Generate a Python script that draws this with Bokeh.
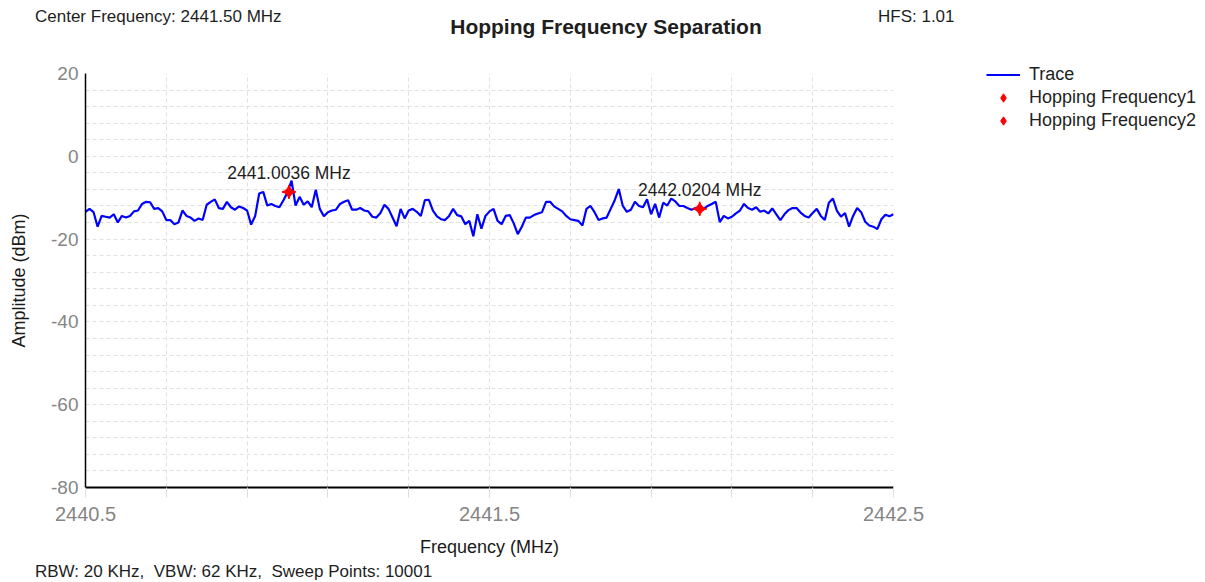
from bokeh.plotting import figure
from bokeh.models import FixedTicker, Legend, LegendItem, Div
from bokeh.layouts import column
from bokeh.core.properties import value
from bokeh.embed import file_html
from bokeh.resources import INLINE
import math

FONT = "Liberation Sans"

center_freq_text = "Center Frequency: 2441.50 MHz"
title_text = "Hopping Frequency Separation"
hfs_text = "HFS: 1.01"
footer_text = "RBW: 20 KHz,&nbsp; VBW: 62 KHz,&nbsp; Sweep Points: 10001"
x_label = "Frequency (MHz)"
y_label = "Amplitude (dBm)"

# trace sampled every 0.01 MHz from 2440.5 MHz
freq_start = 2440.5
freq_step = 0.01
trace_amp = [
    -13.4, -12.7, -13.5, -17.0, -14.4, -14.6, -14.8, -14.0, -16.0, -14.4,
    -14.8, -14.4, -13.3, -13.1, -11.5, -11.0, -11.1, -12.7, -12.5, -13.3,
    -15.4, -15.4, -16.4, -16.0, -13.1, -14.4, -14.8, -15.6, -15.0, -15.4,
    -11.7, -11.0, -10.4, -12.5, -12.7, -11.0, -12.3, -12.9, -12.1, -12.5,
    -13.1, -16.5, -14.4, -9.0, -8.6, -11.9, -11.5, -12.0, -12.3, -10.6,
    -8.7, -5.9, -11.9, -9.8, -11.7, -10.9, -12.3, -8.1, -12.7, -14.5,
    -13.5, -13.1, -12.9, -11.5, -11.0, -10.6, -12.9, -12.9, -12.5, -13.1,
    -13.3, -14.6, -14.8, -13.7, -11.7, -12.7, -14.8, -16.9, -12.7, -15.0,
    -13.1, -12.7, -13.4, -14.4, -10.6, -10.5, -13.1, -14.5, -15.2, -15.4,
    -14.4, -12.7, -14.2, -14.5, -16.4, -15.6, -19.3, -14.0, -17.5, -14.4,
    -13.3, -12.7, -15.6, -16.4, -14.4, -14.2, -16.2, -18.8, -17.0, -14.8,
    -14.8, -14.2, -13.8, -13.5, -11.0, -11.0, -12.1, -12.7, -13.3, -14.4,
    -15.2, -15.4, -15.6, -16.7, -12.7, -12.0, -13.5, -15.4, -15.0, -14.8,
    -12.7, -10.6, -7.9, -12.0, -13.4, -12.9, -11.0, -12.0, -12.3, -10.4,
    -14.0, -11.5, -14.8, -11.2, -11.9, -10.2, -10.9, -12.0, -12.0, -12.5,
    -12.9, -12.5, -12.9, -12.7, -12.0, -11.5, -11.0, -15.9, -14.4, -15.0,
    -14.6, -13.8, -13.1, -11.5, -12.5, -12.9, -12.3, -13.4, -13.1, -13.8,
    -12.6, -14.0, -15.4, -14.0, -13.0, -12.5, -12.5, -13.6, -14.4, -14.8,
    -13.7, -12.7, -14.4, -15.4, -11.2, -10.2, -13.2, -14.6, -13.7, -17.0,
    -14.4, -12.5, -13.5, -15.8, -16.7, -17.0, -17.6, -15.2, -14.1, -14.5,
    -14.0,
]
trace_freq = [round(freq_start + k * freq_step, 2) for k in range(len(trace_amp))]

hop_freq = [2441.0036, 2442.0204]
hop_amp = [-8.6, -12.7]
hop_labels = ["2441.0036 MHz", "2442.0204 MHz"]
legend_labels = ["Trace", "Hopping Frequency1", "Hopping Frequency2"]

x_ticks = [2440.5, 2441.5, 2442.5]
x_grid_ticks = [2440.5, 2440.7, 2440.9, 2441.1, 2441.3, 2441.5, 2441.7, 2441.9, 2442.1, 2442.3, 2442.5]
y_ticks = [-80, -60, -40, -20, 0, 20]
y_grid_ticks = list(range(-80, 21, 4))

p = figure(frame_width=808, frame_height=414,
           x_range=(2440.5, 2442.5), y_range=(-80, 20),
           output_backend="svg", toolbar_location=None,
           min_border_left=85, min_border_right=311,
           min_border_top=15, min_border_bottom=76,
           outline_line_color=None, background_fill_color="white",
           border_fill_color="white", margin=0)

# grids
p.xgrid.ticker = FixedTicker(ticks=x_grid_ticks)
p.ygrid.ticker = FixedTicker(ticks=y_grid_ticks)
for g in (p.xgrid, p.ygrid):
    g.grid_line_color = "#e0e0e0"
    g.grid_line_dash = "4 3"
    g.grid_line_width = 1

# x axis
xa = p.xaxis[0]
xa.ticker = FixedTicker(ticks=x_ticks, minor_ticks=x_grid_ticks)
xa.axis_line_color = "black"
xa.axis_line_width = 2
xa.major_tick_in = 0
xa.major_tick_out = 10
xa.minor_tick_in = 0
xa.minor_tick_out = 10
xa.major_tick_line_color = "#dedede"
xa.minor_tick_line_color = "#dedede"
xa.major_label_standoff = 9
xa.major_label_text_font = FONT
xa.major_label_text_font_size = "20px"
xa.major_label_text_color = "#858585"
xa.axis_label = x_label
xa.axis_label_text_font = FONT
xa.axis_label_text_font_size = "18px"
xa.axis_label_text_font_style = "normal"
xa.axis_label_text_color = "#1a1a1a"
xa.axis_label_standoff = 13

# y axis
ya = p.yaxis[0]
ya.ticker = FixedTicker(ticks=y_ticks)
ya.major_label_overrides = {v: str(v) for v in y_ticks}
ya.axis_line_color = "black"
ya.axis_line_width = 1.5
ya.major_tick_in = 0
ya.major_tick_out = 0
ya.minor_tick_in = 0
ya.minor_tick_out = 0
ya.major_label_standoff = 7
ya.major_label_text_font = FONT
ya.major_label_text_font_size = "19px"
ya.major_label_text_color = "#858585"
ya.axis_label = y_label
ya.axis_label_text_font = FONT
ya.axis_label_text_font_size = "18px"
ya.axis_label_text_font_style = "normal"
ya.axis_label_text_color = "#1a1a1a"
ya.axis_label_standoff = 19

# data
trace_r = p.line(trace_freq, trace_amp, line_color="#0000ff", line_width=2.2)

hop_renderers = []
for k in range(len(hop_freq)):
    # plump 4-point star: a small diamond under a rotated concave square
    core = p.scatter(hop_freq[k:k + 1], hop_amp[k:k + 1], marker="diamond", size=9,
                     fill_color="#ff0000", line_color="#ff0000")
    p.scatter(hop_freq[k:k + 1], hop_amp[k:k + 1], marker="square_pin", size=10,
              angle=math.pi / 4, fill_color="#ff0000", line_color="#ff0000")
    hop_renderers.append(core)

p.text(hop_freq, hop_amp, text=hop_labels, y_offset=-19,
       text_align="center", text_baseline="alphabetic",
       text_font=value(FONT), text_font_size="17.5px", text_color="#1e1e1e")

legend = Legend(items=[
    LegendItem(label=legend_labels[0], renderers=[trace_r]),
    LegendItem(label=legend_labels[1], renderers=[hop_renderers[0]]),
    LegendItem(label=legend_labels[2], renderers=[hop_renderers[1]]),
], location=(93, 356))
legend.padding = 0
legend.margin = 0
legend.spacing = 2
legend.glyph_width = 34
legend.glyph_height = 21
legend.label_height = 21
legend.label_standoff = 9
legend.label_text_font = FONT
legend.label_text_font_size = "18px"
legend.label_text_color = "#1e1e1e"
legend.border_line_alpha = 0
legend.background_fill_alpha = 0
p.add_layout(legend, "right")

FF = "'Liberation Sans', Arial, sans-serif"
header_html = (
    f'<div style="position:relative;width:1204px;height:58px;font-family:{FF};color:#1e1e1e;">'
    f'<span style="position:absolute;left:35px;top:8px;font-size:17px;line-height:18px;white-space:nowrap;">{center_freq_text}</span>'
    f'<span style="position:absolute;left:206px;width:800px;top:16px;text-align:center;font-size:21px;font-weight:bold;line-height:22px;white-space:nowrap;">{title_text}</span>'
    f'<span style="position:absolute;left:878px;top:8px;font-size:17px;line-height:18px;white-space:nowrap;">{hfs_text}</span>'
    '</div>'
)
footer_html = (
    f'<div style="position:relative;width:1204px;height:18px;font-family:{FF};color:#1e1e1e;">'
    f'<span style="position:absolute;left:35px;top:0px;font-size:17px;line-height:17px;white-space:nowrap;">{footer_text}</span>'
    '</div>'
)
header = Div(text=header_html, width=1204, height=58, margin=0)
footer = Div(text=footer_html, width=1204, height=18, margin=0)

layout = column(header, p, footer, spacing=0, margin=0)

open("out.html", "w").write(file_html(layout, INLINE))
